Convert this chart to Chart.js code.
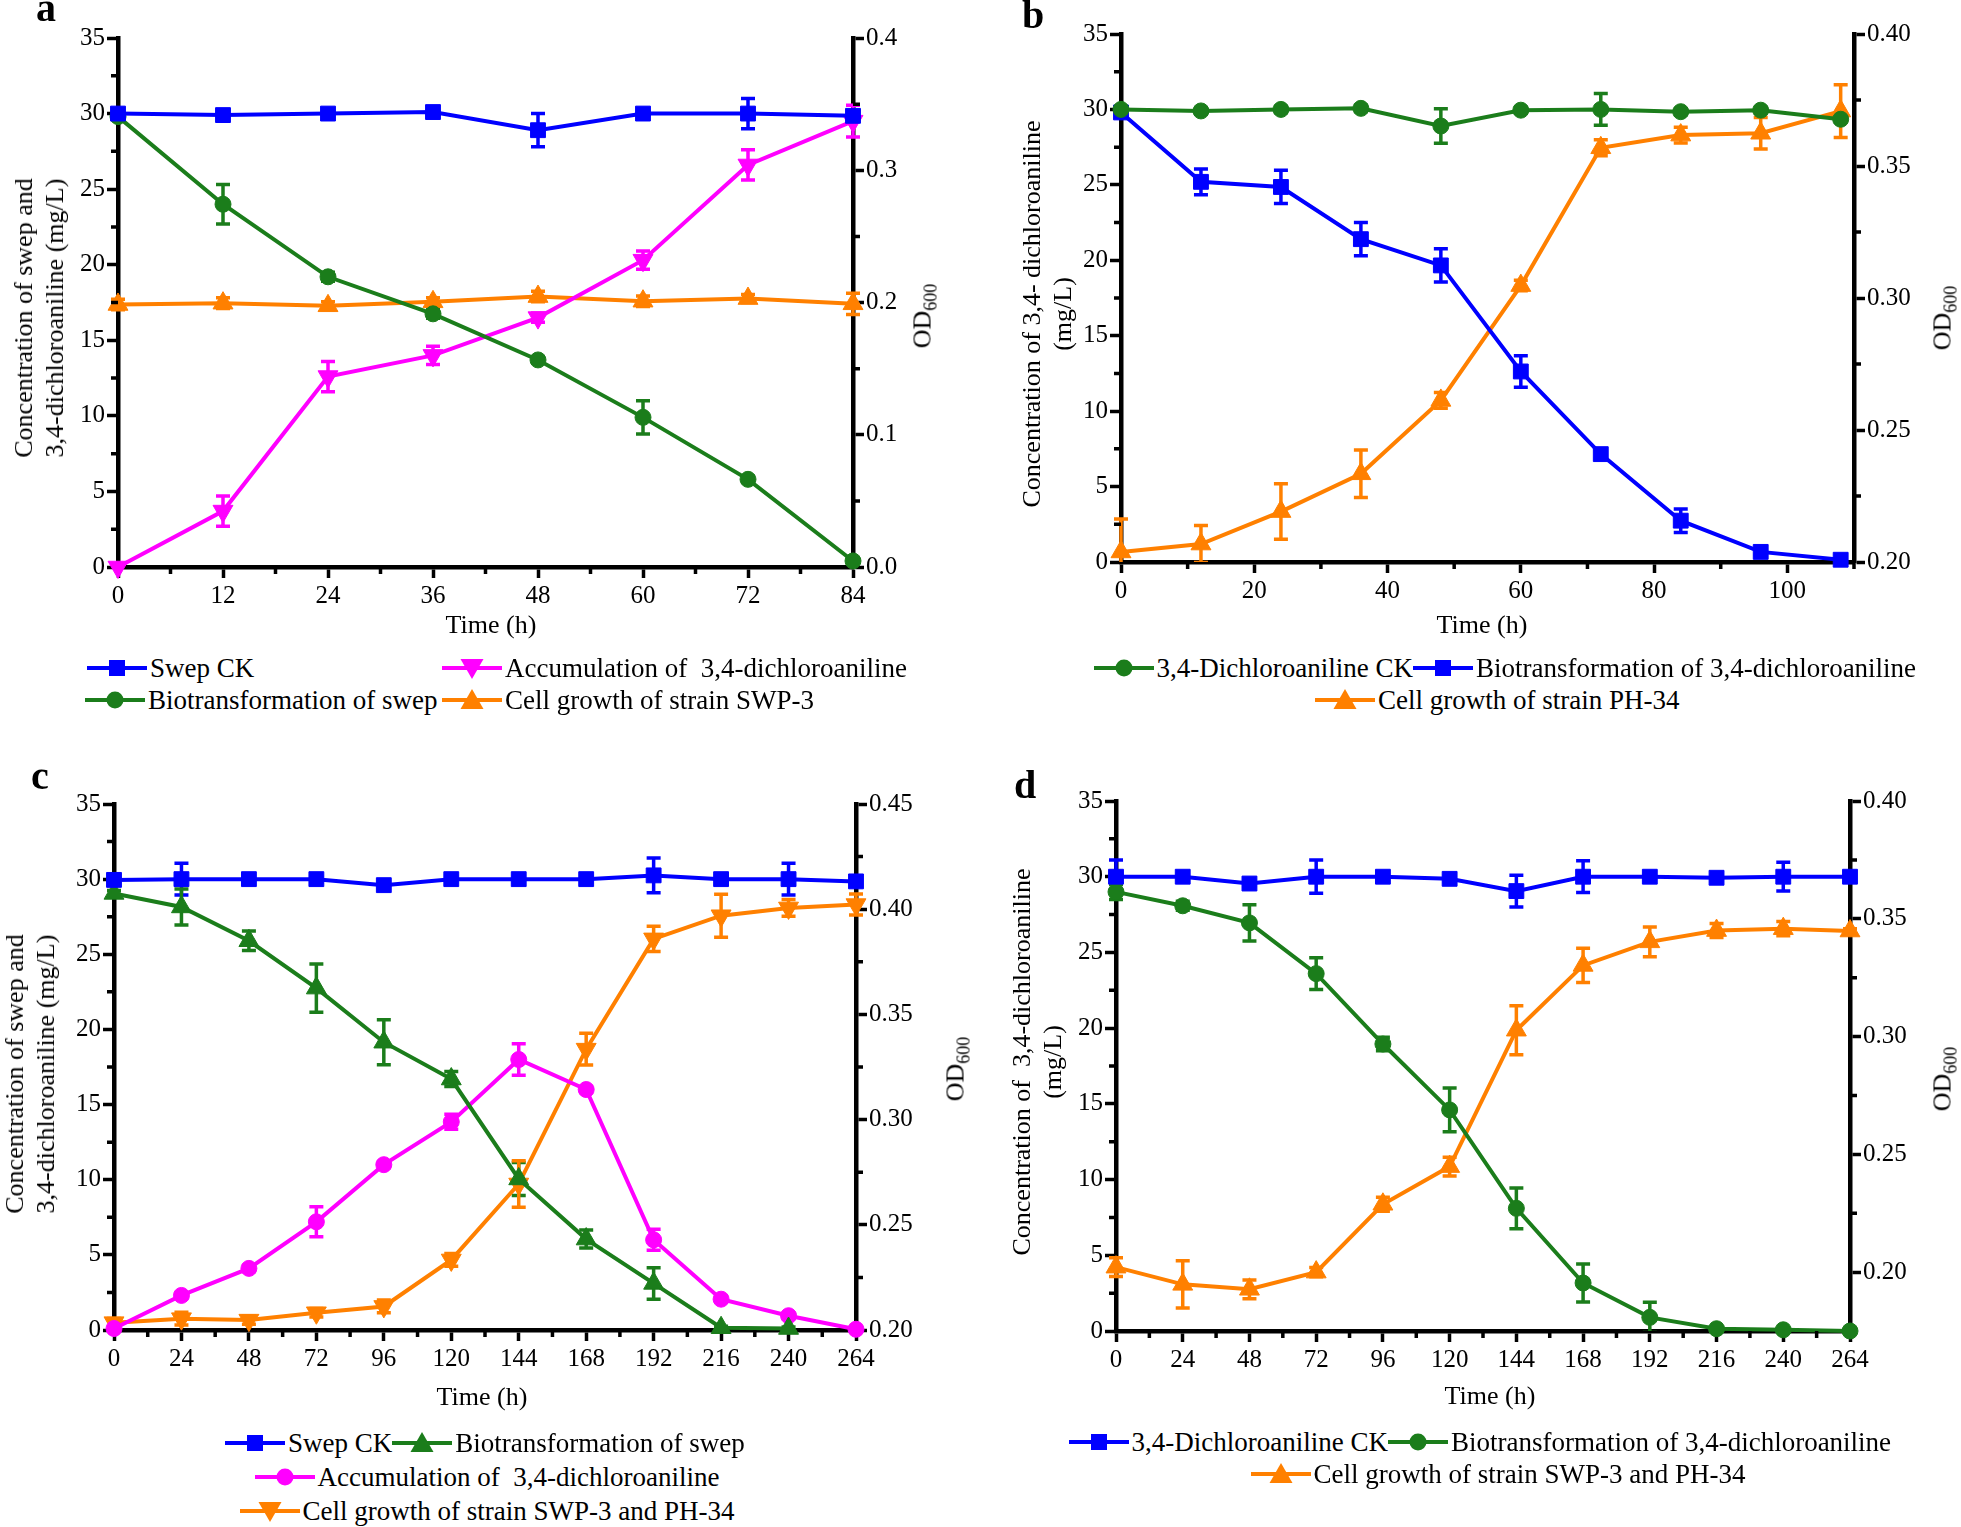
<!DOCTYPE html>
<html>
<head>
<meta charset="utf-8">
<script src="https://cdn.jsdelivr.net/npm/chart.js@4.4.1/dist/chart.umd.min.js"></script>
<style>
  body { margin: 0; background: #fff; width: 1961px; height: 1527px; position: relative; overflow: hidden;
         font-family: 'Liberation Serif', 'Times New Roman', serif; color: #000; }
  canvas { position: absolute; }
  .txt { position: absolute; white-space: pre; font-size: 26px; line-height: 31px; }
  .rot { transform: translate(-50%, -50%) rotate(-90deg); text-align: center; }
  .mid { transform: translate(-50%, -50%); }
  .letter { position: absolute; font-weight: bold; font-size: 40px; line-height: 40px; }
  .legrow { position: absolute; display: flex; align-items: center; white-space: pre; font-size: 27px; height: 30px; }
  .legrow svg { display: block; margin-right: 3px; }
  sub { font-size: 18px; vertical-align: -6px; line-height: 0; }
</style>
</head>
<body>
<script>
// ---- data: panel a ----
const timeA = [0, 12, 24, 36, 48, 60, 72, 84];
const swepCkA = [30.0, 29.9, 30.0, 30.1, 28.9, 30.0, 30.0, 29.85];
const swepCkErrA = [0.2, 0.2, 0.2, 0.2, 1.1, 0.2, 1.0, 0.2];
const bioSwepA = [29.8, 24.0, 19.2, 16.75, 13.7, 9.9, 5.8, 0.4];
const bioSwepErrA = [0.2, 1.3, 0.3, 0.3, 0.2, 1.1, 0.2, 0.1];
const accDcaA = [0.0, 3.7, 12.6, 14.0, 16.5, 20.3, 26.6, 29.5];
const accDcaErrA = [0.0, 1.0, 1.0, 0.6, 0.3, 0.6, 1.0, 1.05];
const growthA = [0.1985, 0.1995, 0.1975, 0.2005, 0.2045, 0.201, 0.203, 0.199];
const growthErrA = [0.004, 0.004, 0.003, 0.003, 0.004, 0.004, 0.003, 0.008];
const xTicksA = [0, 12, 24, 36, 48, 60, 72, 84];
const odTicksA = [0, 0.1, 0.2, 0.3, 0.4];

// ---- data: panel b ----
const timeB = [0, 12, 24, 36, 48, 60, 72, 84, 96, 108];
const dcaCkB = [30.0, 29.9, 30.0, 30.07, 28.9, 29.95, 30.0, 29.85, 29.95, 29.35];
const dcaCkErrB = [0.2, 0.2, 0.2, 0.2, 1.15, 0.2, 1.05, 0.2, 0.2, 0.2];
const bioDcaB = [29.8, 25.2, 24.86, 21.4, 19.66, 12.63, 7.15, 2.74, 0.67, 0.15];
const bioDcaErrB = [0.2, 0.85, 1.1, 1.1, 1.1, 1.05, 0.3, 0.78, 0.2, 0.1];
const growthB = [0.2038, 0.2068, 0.2191, 0.2334, 0.2612, 0.3047, 0.3569, 0.3617, 0.3624, 0.3708];
const growthErrB = [0.0125, 0.007, 0.0105, 0.009, 0.003, 0.002, 0.003, 0.003, 0.006, 0.01];
const xTicksB = [0, 20, 40, 60, 80, 100];
const odTicksB = [0.20, 0.25, 0.30, 0.35, 0.40];

// ---- data: panel c ----
const timeC = [0, 24, 48, 72, 96, 120, 144, 168, 192, 216, 240, 264];
const swepCkC = [29.95, 30.0, 30.0, 30.0, 29.6, 30.0, 30.0, 30.0, 30.25, 30.0, 30.0, 29.85];
const swepCkErrC = [0.2, 1.05, 0.2, 0.2, 0.2, 0.2, 0.2, 0.2, 1.15, 0.2, 1.05, 0.2];
const bioSwepC = [29.05, 28.15, 25.9, 22.75, 19.15, 16.7, 10.05, 6.05, 3.1, 0.15, 0.1, null];
const bioSwepErrC = [0.2, 1.2, 0.65, 1.6, 1.5, 0.5, 1.1, 0.6, 1.05, 0.1, 0.1, 0];
const accDcaC = [0.1, 2.3, 4.1, 7.2, 11.0, 13.85, 18.0, 16.0, 6.0, 2.05, 0.95, 0.05];
const accDcaErrC = [0.1, 0.2, 0.2, 1.0, 0.2, 0.5, 1.05, 0.2, 0.7, 0.2, 0.2, 0.1];
const growthC = [0.2035, 0.2054, 0.2047, 0.2082, 0.2112, 0.2333, 0.2694, 0.3335, 0.3859, 0.3969, 0.4006, 0.4022];
const growthErrC = [0.002, 0.003, 0.002, 0.002, 0.003, 0.003, 0.011, 0.0075, 0.006, 0.0102, 0.004, 0.005];
const xTicksC = [0, 24, 48, 72, 96, 120, 144, 168, 192, 216, 240, 264];
const odTicksC = [0.20, 0.25, 0.30, 0.35, 0.40, 0.45];

// ---- data: panel d ----
const timeD = [0, 24, 48, 72, 96, 120, 144, 168, 192, 216, 240, 264];
const dcaCkD = [30.0, 30.0, 29.55, 30.0, 30.0, 29.86, 29.05, 30.0, 30.0, 29.93, 30.0, 30.0];
const dcaCkErrD = [1.1, 0.2, 0.2, 1.1, 0.2, 0.2, 1.05, 1.05, 0.2, 0.2, 0.95, 0.2];
const bioDcaD = [29.0, 28.08, 26.95, 23.6, 18.95, 14.6, 8.1, 3.17, 0.9, 0.15, 0.08, 0.0];
const bioDcaErrD = [0.5, 0.3, 1.2, 1.05, 0.45, 1.45, 1.35, 1.25, 1.0, 0.1, 0.1, 0];
const growthD = [0.2021, 0.1948, 0.1927, 0.2000, 0.2288, 0.2448, 0.3027, 0.3302, 0.3402, 0.3450, 0.3458, 0.3448];
const growthErrD = [0.004, 0.010, 0.004, 0.002, 0.003, 0.004, 0.0104, 0.0073, 0.0063, 0.003, 0.003, 0.001];
const xTicksD = [0, 24, 48, 72, 96, 120, 144, 168, 192, 216, 240, 264];
const odTicksD = [0.20, 0.25, 0.30, 0.35, 0.40];

const concTicks = [0, 5, 10, 15, 20, 25, 30, 35];

// colours
const BLUE = '#0000ff', GREEN = '#1b7d1b', MAGENTA = '#ff00ff', ORANGE = '#ff8000';

// ---- panels ----
const panels = [
  {
    letter: 'a', letterPos: [36, -12],
    canvas: [0, 0, 980, 640], area: { l: 118, r: 853, t: 38, b: 567 },
    xMax: 84, xTicks: xTicksA, odMin: 0, odMax: 0.4, odTicks: odTicksA, odDec: 1,
    series: [
      { label: 'Swep CK', x: timeA, y: swepCkA, err: swepCkErrA, color: BLUE, marker: 'rect', axis: 'y' },
      { label: 'Biotransformation of swep', x: timeA, y: bioSwepA, err: bioSwepErrA, color: GREEN, marker: 'circle', axis: 'y' },
      { label: 'Accumulation of  3,4-dichloroaniline', x: timeA, y: accDcaA, err: accDcaErrA, color: MAGENTA, marker: 'down', axis: 'y' },
      { label: 'Cell growth of strain SWP-3', x: timeA, y: growthA, err: growthErrA, color: ORANGE, marker: 'triangle', axis: 'y1' }
    ],
    leftTitle: 'Concentration of swep and\n3,4-dichloroaniline (mg/L)', leftPos: [39, 318],
    rightPos: [922, 316], timePos: [491, 624],
    legend: [
      { left: 87, y: 668, items: [0] }, { left: 442, y: 668, items: [2] },
      { left: 85, y: 700, items: [1] }, { left: 442, y: 700, items: [3] }
    ]
  },
  {
    letter: 'b', letterPos: [1022, -5],
    canvas: [980, 0, 980, 640], area: { l: 1121, r: 1854, t: 34, b: 562 },
    xMax: 110, xTicks: xTicksB, odMin: 0.2, odMax: 0.4, odTicks: odTicksB, odDec: 2,
    series: [
      { label: '3,4-Dichloroaniline CK', x: timeB, y: dcaCkB, err: dcaCkErrB, color: GREEN, marker: 'circle', axis: 'y' },
      { label: 'Biotransformation of 3,4-dichloroaniline', x: timeB, y: bioDcaB, err: bioDcaErrB, color: BLUE, marker: 'rect', axis: 'y' },
      { label: 'Cell growth of strain PH-34', x: timeB, y: growthB, err: growthErrB, color: ORANGE, marker: 'triangle', axis: 'y1' }
    ],
    leftTitle: 'Concentration of 3,4- dichloroaniline\n(mg/L)', leftPos: [1047, 314],
    rightPos: [1942, 318], timePos: [1482, 624],
    legend: [
      { center: 1505, y: 668, items: [0, 1] }, { center: 1497, y: 700, items: [2] }
    ]
  },
  {
    letter: 'c', letterPos: [31, 756],
    canvas: [0, 760, 980, 640], area: { l: 114, r: 856, t: 804, b: 1330 },
    xMax: 264, xTicks: xTicksC, odMin: 0.2, odMax: 0.45, odTicks: odTicksC, odDec: 2,
    series: [
      { label: 'Swep CK', x: timeC, y: swepCkC, err: swepCkErrC, color: BLUE, marker: 'rect', axis: 'y' },
      { label: 'Biotransformation of swep', x: timeC, y: bioSwepC, err: bioSwepErrC, color: GREEN, marker: 'triangle', axis: 'y' },
      { label: 'Accumulation of  3,4-dichloroaniline', x: timeC, y: accDcaC, err: accDcaErrC, color: MAGENTA, marker: 'circle', axis: 'y' },
      { label: 'Cell growth of strain SWP-3 and PH-34', x: timeC, y: growthC, err: growthErrC, color: ORANGE, marker: 'down', axis: 'y1' }
    ],
    leftTitle: 'Concentration of swep and\n3,4-dichloroaniline (mg/L)', leftPos: [30, 1074],
    rightPos: [955, 1069], timePos: [482, 1396],
    legend: [
      { center: 485, y: 1443, items: [0, 1] }, { center: 487, y: 1477, items: [2] }, { center: 487, y: 1511, items: [3] }
    ]
  },
  {
    letter: 'd', letterPos: [1014, 765],
    canvas: [980, 760, 980, 640], area: { l: 1116, r: 1850, t: 801, b: 1331 },
    xMax: 264, xTicks: xTicksD, odMin: 0.175, odMax: 0.4, odTicks: odTicksD, odDec: 2,
    series: [
      { label: '3,4-Dichloroaniline CK', x: timeD, y: dcaCkD, err: dcaCkErrD, color: BLUE, marker: 'rect', axis: 'y' },
      { label: 'Biotransformation of 3,4-dichloroaniline', x: timeD, y: bioDcaD, err: bioDcaErrD, color: GREEN, marker: 'circle', axis: 'y' },
      { label: 'Cell growth of strain SWP-3 and PH-34', x: timeD, y: growthD, err: growthErrD, color: ORANGE, marker: 'triangle', axis: 'y1' }
    ],
    leftTitle: 'Concentration of  3,4-dichloroaniline\n(mg/L)', leftPos: [1037, 1062],
    rightPos: [1942, 1079], timePos: [1490, 1395],
    legend: [
      { center: 1480, y: 1442, items: [0, 1] }, { center: 1498, y: 1474, items: [2] }
    ]
  }
];

Chart.defaults.font.family = "'Liberation Serif', 'Times New Roman', serif";
Chart.defaults.color = '#000';

const Y_LEFT_W = 60, Y_RIGHT_W = 75, X_H = 50;

// error bars drawn through the scales
const errorBars = {
  id: 'errorBars',
  beforeDatasetsDraw(chart) {
    const ctx = chart.ctx, a = chart.chartArea;
    ctx.save();
    ctx.beginPath();
    ctx.rect(a.left - 12, a.top - 2, a.right - a.left + 24, a.bottom - a.top + 2);
    ctx.clip();
    chart.data.datasets.forEach((ds, i) => {
      if (!ds.errors) return;
      const meta = chart.getDatasetMeta(i);
      const ys = chart.scales[ds.yAxisID];
      ctx.strokeStyle = ds.borderColor;
      ctx.lineWidth = 3.5;
      meta.data.forEach((pt, j) => {
        const d = ds.data[j], e = ds.errors[j];
        if (!d || d.y == null || !e) return;
        const top = ys.getPixelForValue(d.y + e), bot = ys.getPixelForValue(d.y - e);
        ctx.beginPath();
        ctx.moveTo(pt.x, top); ctx.lineTo(pt.x, bot);
        ctx.moveTo(pt.x - 7, top); ctx.lineTo(pt.x + 7, top);
        ctx.moveTo(pt.x - 7, bot); ctx.lineTo(pt.x + 7, bot);
        ctx.stroke();
      });
    });
    ctx.restore();
  }
};

// minor ticks halfway between the major ones
const minorTicks = {
  id: 'minorTicks',
  afterDraw(chart) {
    const ctx = chart.ctx, a = chart.chartArea;
    ctx.save();
    ctx.strokeStyle = '#000';
    ctx.lineWidth = 3.5;
    Object.values(chart.scales).forEach(sc => {
      const vals = sc.ticks.map(t => t.value);
      const mids = [];
      for (let k = 0; k < vals.length; k++) {
        const step = k < vals.length - 1 ? vals[k + 1] - vals[k] : vals[k] - vals[k - 1];
        if (k === 0 && vals[0] - step / 2 >= sc.min + 1e-9) mids.push(vals[0] - step / 2);
        if (vals[k] + step / 2 <= sc.max + 1e-9) mids.push(vals[k] + step / 2);
      }
      ctx.beginPath();
      mids.forEach(m => {
        const p = sc.getPixelForValue(m);
        if (sc.id === 'x') { ctx.moveTo(p, a.bottom); ctx.lineTo(p, a.bottom + 7); }
        else if (sc.id === 'y') { ctx.moveTo(a.left - 7, p); ctx.lineTo(a.left, p); }
        else { ctx.moveTo(a.right, p); ctx.lineTo(a.right + 7, p); }
      });
      ctx.stroke();
    });
    ctx.restore();
  }
};

function axisCommon(ticks, dec) {
  return {
    type: 'linear', z: 1,
    afterBuildTicks: s => { s.ticks = ticks.map(v => ({ value: v })); },
    ticks: { autoSkip: false, maxRotation: 0, font: { size: 25 }, color: '#000', padding: 2,
             callback: v => Number(v).toFixed(dec) },
    grid: { drawOnChartArea: false, drawTicks: true, tickLength: 11, tickWidth: 3.5, tickColor: '#000' },
    border: { display: true, color: '#000', width: 4.5 }
  };
}

function pointStyleOf(m) {
  if (m === 'rect') return { pointStyle: 'rect', pointRadius: 10.5, pointRotation: 0 };
  if (m === 'circle') return { pointStyle: 'circle', pointRadius: 8, pointRotation: 0 };
  if (m === 'triangle') return { pointStyle: 'triangle', pointRadius: 11.5, pointRotation: 0 };
  return { pointStyle: 'triangle', pointRadius: 11.5, pointRotation: 180 };
}

function markerSvg(s) {
  const c = s.color;
  let m;
  if (s.marker === 'rect') m = `<rect x="22" y="4" width="16" height="16" fill="${c}"/>`;
  else if (s.marker === 'circle') m = `<circle cx="30" cy="12" r="8.5" fill="${c}"/>`;
  else if (s.marker === 'triangle') m = `<polygon points="30,1 41.5,21 18.5,21" fill="${c}"/>`;
  else m = `<polygon points="30,23 41.5,3 18.5,3" fill="${c}"/>`;
  return `<svg width="60" height="24" viewBox="0 0 60 24"><line x1="0" y1="12" x2="60" y2="12" stroke="${c}" stroke-width="4"/>${m}</svg>`;
}

function addText(cls, html, x, y) {
  const el = document.createElement('div');
  el.className = cls;
  el.innerHTML = html;
  el.style.left = x + 'px';
  el.style.top = y + 'px';
  document.body.appendChild(el);
  return el;
}

panels.forEach(p => {
  const [cl, ct, cw, ch] = p.canvas;
  const cv = document.createElement('canvas');
  cv.width = cw; cv.height = ch;
  cv.style.left = cl + 'px'; cv.style.top = ct + 'px';
  document.body.appendChild(cv);

  const xs = axisCommon(p.xTicks, 0);
  Object.assign(xs, { position: 'bottom', min: 0, max: p.xMax, afterFit: s => { s.height = X_H; } });
  xs.ticks.padding = 3;
  const yl = axisCommon(concTicks, 0);
  Object.assign(yl, { position: 'left', min: 0, max: 35, afterFit: s => { s.width = Y_LEFT_W; } });
  const yr = axisCommon(p.odTicks, p.odDec);
  Object.assign(yr, { position: 'right', min: p.odMin, max: p.odMax, afterFit: s => { s.width = Y_RIGHT_W; } });

  const datasets = p.series.map(s => Object.assign({
    label: s.label,
    data: s.x.map((t, i) => ({ x: t, y: s.y[i] })),
    yAxisID: s.axis,
    borderColor: s.color,
    backgroundColor: s.color,
    borderWidth: 4,
    pointBorderWidth: 1,
    tension: 0,
    clip: false,
    errors: s.err
  }, pointStyleOf(s.marker)));

  new Chart(cv, {
    type: 'line',
    data: { datasets },
    options: {
      responsive: false, animation: false, events: [],
      layout: { padding: {
        left: p.area.l - cl - Y_LEFT_W,
        right: cl + cw - p.area.r - Y_RIGHT_W,
        top: p.area.t - ct,
        bottom: ct + ch - p.area.b - X_H
      } },
      plugins: { legend: { display: false }, tooltip: { enabled: false } },
      scales: { x: xs, y: yl, y1: yr }
    },
    plugins: [errorBars, minorTicks]
  });

  // panel letter and axis titles
  addText('letter', p.letter, p.letterPos[0], p.letterPos[1]);
  addText('txt rot', p.leftTitle, p.leftPos[0], p.leftPos[1]);
  addText('txt rot', 'OD<sub>600</sub>', p.rightPos[0], p.rightPos[1]);
  addText('txt mid', 'Time (h)', p.timePos[0], p.timePos[1]);

  // legend rows
  p.legend.forEach(row => {
    const el = document.createElement('div');
    el.className = 'legrow';
    el.innerHTML = row.items.map(k => markerSvg(p.series[k]) + `<span>${p.series[k].label}</span>`).join('');
    el.style.top = (row.y - 15) + 'px';
    document.body.appendChild(el);
    if (row.left !== undefined) el.style.left = row.left + 'px';
    else el.style.left = (row.center - el.offsetWidth / 2) + 'px';
  });
});
</script>
</body>
</html>
